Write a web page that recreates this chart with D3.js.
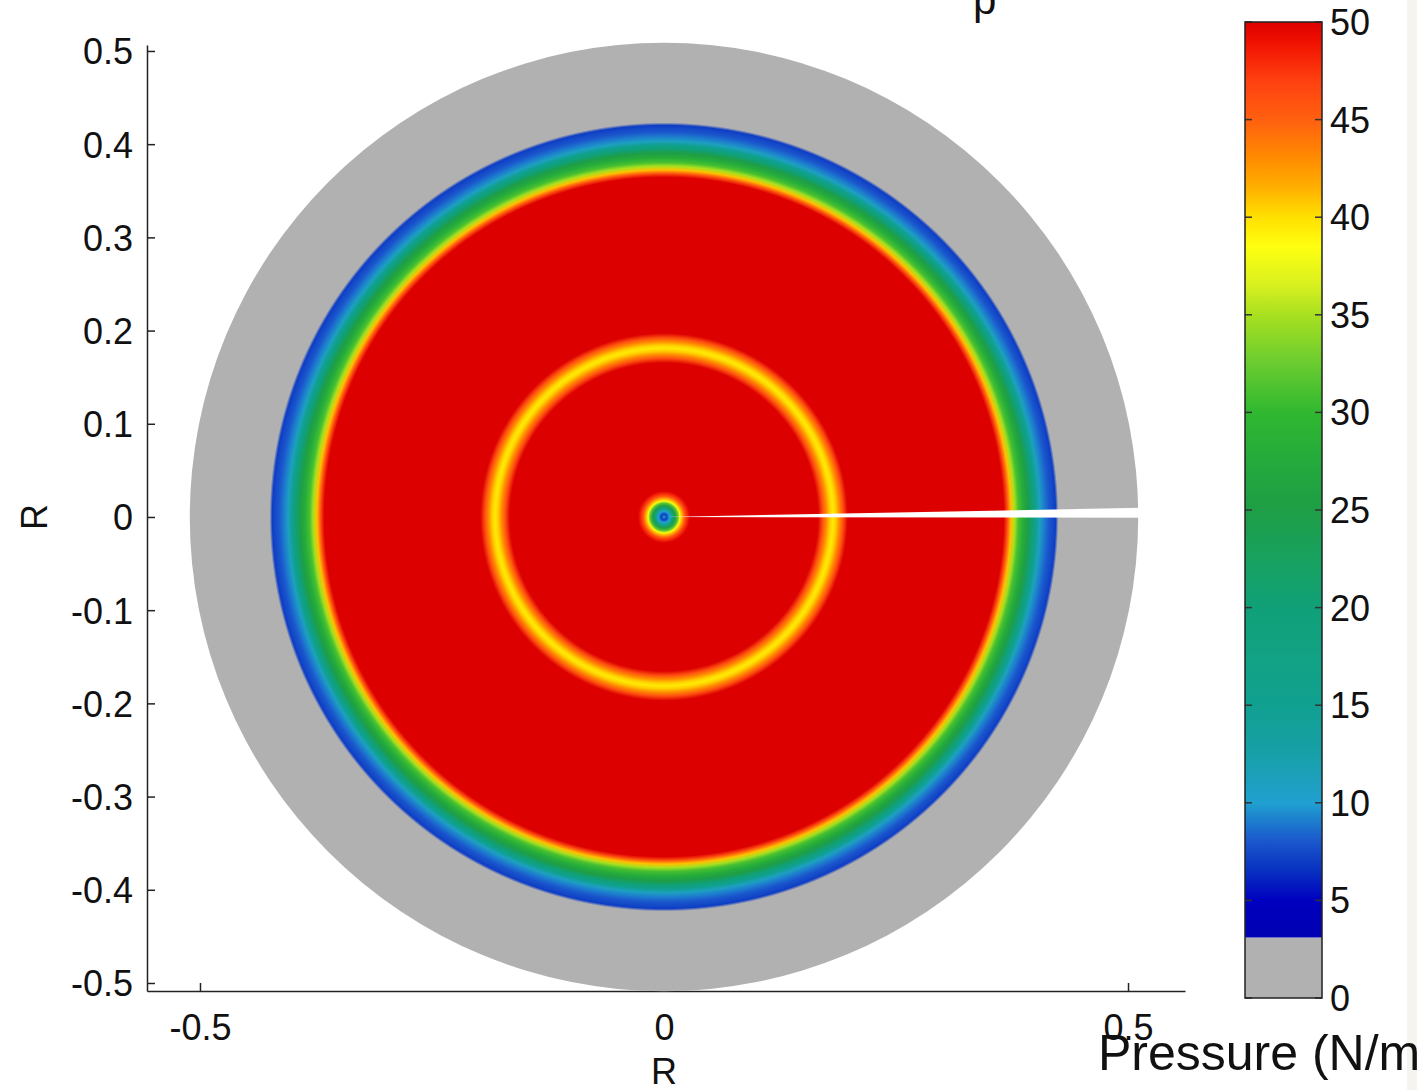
<!DOCTYPE html>
<html lang="en">
<head>
<meta charset="UTF-8" />
<title>Pressure field</title>
<style>
  html, body { margin: 0; padding: 0; background: #fff; overflow: hidden; }
  svg { display: block; font-family: "Liberation Sans", Arial, sans-serif; }
</style>
</head>
<body>
<script src="https://d3js.org/d3.v7.min.js"></script>
<script>
// radial pressure profile (radius in R units, pressure in N/m^2)
const profileR = [0, 0.003, 0.006, 0.009, 0.012, 0.015, 0.017, 0.019, 0.022, 0.025, 0.028,
  0.166, 0.171, 0.175, 0.179, 0.182, 0.185, 0.189, 0.193, 0.198,
  0.366, 0.370, 0.374, 0.378, 0.382, 0.387, 0.392, 0.397, 0.401, 0.405, 0.410, 0.415, 0.419, 0.422, 0.425, 0.511];
const profileP = [11, 7, 10, 18, 25, 32, 38, 41, 45, 48, 50,
  50, 46, 43, 40.5, 39.5, 40.5, 43, 46, 50,
  50, 46, 41, 35, 31, 28, 25, 20, 15, 11, 9, 8, 7.5, 7, 2.5, 2];
const discRadius = 0.511;
const slitAngles = [-0.1, 1.1]; // degrees, open seam at theta = 0

// colour map of the colour bar
const cmapValues = [3.1, 4, 5, 6.5, 8, 10, 12.5, 15, 17.5, 20, 22.5, 25, 27.5, 30, 32.5, 35, 36.5, 38.5, 40, 41.5, 43, 45, 47, 49, 50];
const cmapColors = ["#0000b4", "#0000b8", "#0000c0", "#0830c0", "#1a56cc", "#20a0d0", "#18a0a8", "#10a090", "#12a284", "#10a078", "#18a260", "#1e9e46", "#24aa3c", "#30b830", "#6acc30", "#a8e020", "#d8f020", "#ffff10", "#ffe000", "#ffb000", "#ff8c00", "#ff6010", "#ff4010", "#f01000", "#dc0000"];
const grayBelow = 3.1;
const grayColor = "#b1b1b1";

const xTicks = [-0.5, 0, 0.5];
const yTicks = [0.5, 0.4, 0.3, 0.2, 0.1, 0, -0.1, -0.2, -0.3, -0.4, -0.5];
const cbarTicks = [0, 5, 10, 15, 20, 25, 30, 35, 40, 45, 50];

const width = 1417, height = 1090;
const x = d3.scaleLinear().domain([-0.5571, 0.5614]).range([147, 1185]);
const y = d3.scaleLinear().domain([-0.5086, 0.5064]).range([991, 45]);
const cy = d3.scaleLinear().domain([0, 50]).range([998, 22]);
const cbX0 = 1245, cbX1 = 1322;

const jet = d3.scaleLinear().domain(cmapValues).range(cmapColors).clamp(true);
const color = p => p < grayBelow ? grayColor : jet(p);

const svg = d3.select("body").append("svg").attr("width", width).attr("height", height);
const defs = svg.append("defs");

svg.append("rect").attr("x", 1407).attr("y", 0).attr("width", 10).attr("height", height).attr("fill", "#f6f4ee");

// axes
const axisFont = 36;
const gy = svg.append("g").attr("transform", `translate(${x.range()[0]},0)`)
  .call(d3.axisLeft(y).tickValues(yTicks).tickSizeInner(-8).tickSizeOuter(0).tickPadding(14).tickFormat(d => String(d)));
const gx = svg.append("g").attr("transform", `translate(0,${y.range()[0]})`)
  .call(d3.axisBottom(x).tickValues(xTicks).tickSizeInner(-8).tickSizeOuter(0).tickPadding(23).tickFormat(d => String(d)));
[gx, gy].forEach(g => {
  g.selectAll("path, line").attr("stroke", "#222").attr("stroke-width", 1.5);
  g.selectAll("text").attr("font-size", axisFont).attr("font-family", "Liberation Sans, Arial, sans-serif").attr("fill", "#111");
});
gy.selectAll("text").attr("dy", "0.36em");

svg.append("text").attr("transform", `translate(47,${y(0)}) rotate(-90)`)
  .attr("text-anchor", "middle").attr("font-size", axisFont).attr("fill", "#111").text("R");
svg.append("text").attr("x", x(0)).attr("y", 1084)
  .attr("text-anchor", "middle").attr("font-size", axisFont).attr("fill", "#111").text("R");

// title, cut off by the top of the figure
svg.append("text").attr("x", 973).attr("y", 14).attr("font-size", 42).attr("fill", "#111").text("p");

// pressure disc
const cx0 = x(0), cy0 = y(0);
const rPx = r => x(r) - x(0);
const grad = defs.append("radialGradient").attr("id", "field")
  .attr("gradientUnits", "userSpaceOnUse")
  .attr("cx", cx0).attr("cy", cy0).attr("r", rPx(discRadius));
grad.selectAll("stop").data(profileR).join("stop")
  .attr("offset", r => r / discRadius)
  .attr("stop-color", (r, i) => color(profileP[i]));

svg.append("circle").attr("cx", cx0).attr("cy", cy0).attr("r", rPx(discRadius)).attr("fill", "url(#field)");

// open seam along theta = 0
const slitPts = [[cx0, cy0]].concat(slitAngles.map(a => {
  const t = a * Math.PI / 180;
  return [x(discRadius * 1.005 * Math.cos(t)), y(discRadius * 1.005 * Math.sin(t))];
}));
svg.append("polygon").attr("points", slitPts.map(p => p.join(",")).join(" ")).attr("fill", "#fff");

// colour bar
const cbGrad = defs.append("linearGradient").attr("id", "cbar")
  .attr("gradientUnits", "userSpaceOnUse")
  .attr("x1", 0).attr("x2", 0).attr("y1", cy(grayBelow)).attr("y2", cy(50));
cbGrad.selectAll("stop").data(cmapValues).join("stop")
  .attr("offset", v => (v - grayBelow) / (50 - grayBelow))
  .attr("stop-color", (v, i) => cmapColors[i]);

svg.append("rect").attr("x", cbX0).attr("y", cy(grayBelow)).attr("width", cbX1 - cbX0)
  .attr("height", cy(0) - cy(grayBelow)).attr("fill", grayColor);
svg.append("rect").attr("x", cbX0).attr("y", cy(50)).attr("width", cbX1 - cbX0)
  .attr("height", cy(grayBelow) - cy(50)).attr("fill", "url(#cbar)");

const cb = svg.append("g");
cb.selectAll("line.l").data(cbarTicks).join("line").attr("class", "l")
  .attr("x1", cbX0).attr("x2", cbX0 + 7).attr("y1", cy).attr("y2", cy)
  .attr("stroke", "#333").attr("stroke-width", 1.5);
cb.selectAll("line.r").data(cbarTicks).join("line").attr("class", "r")
  .attr("x1", cbX1 - 7).attr("x2", cbX1).attr("y1", cy).attr("y2", cy)
  .attr("stroke", "#333").attr("stroke-width", 1.5);
cb.selectAll("text").data(cbarTicks).join("text")
  .attr("x", cbX1 + 8).attr("y", cy).attr("dy", "0.36em")
  .attr("font-size", axisFont).attr("fill", "#111").text(d => d);
svg.append("rect").attr("x", cbX0).attr("y", cy(50)).attr("width", cbX1 - cbX0)
  .attr("height", cy(0) - cy(50)).attr("fill", "none").attr("stroke", "#222").attr("stroke-width", 1.5);

svg.append("text").attr("x", 1098).attr("y", 1070).attr("font-size", 50).attr("fill", "#111")
  .text("Pressure (N/m²)");
</script>
</body>
</html>
